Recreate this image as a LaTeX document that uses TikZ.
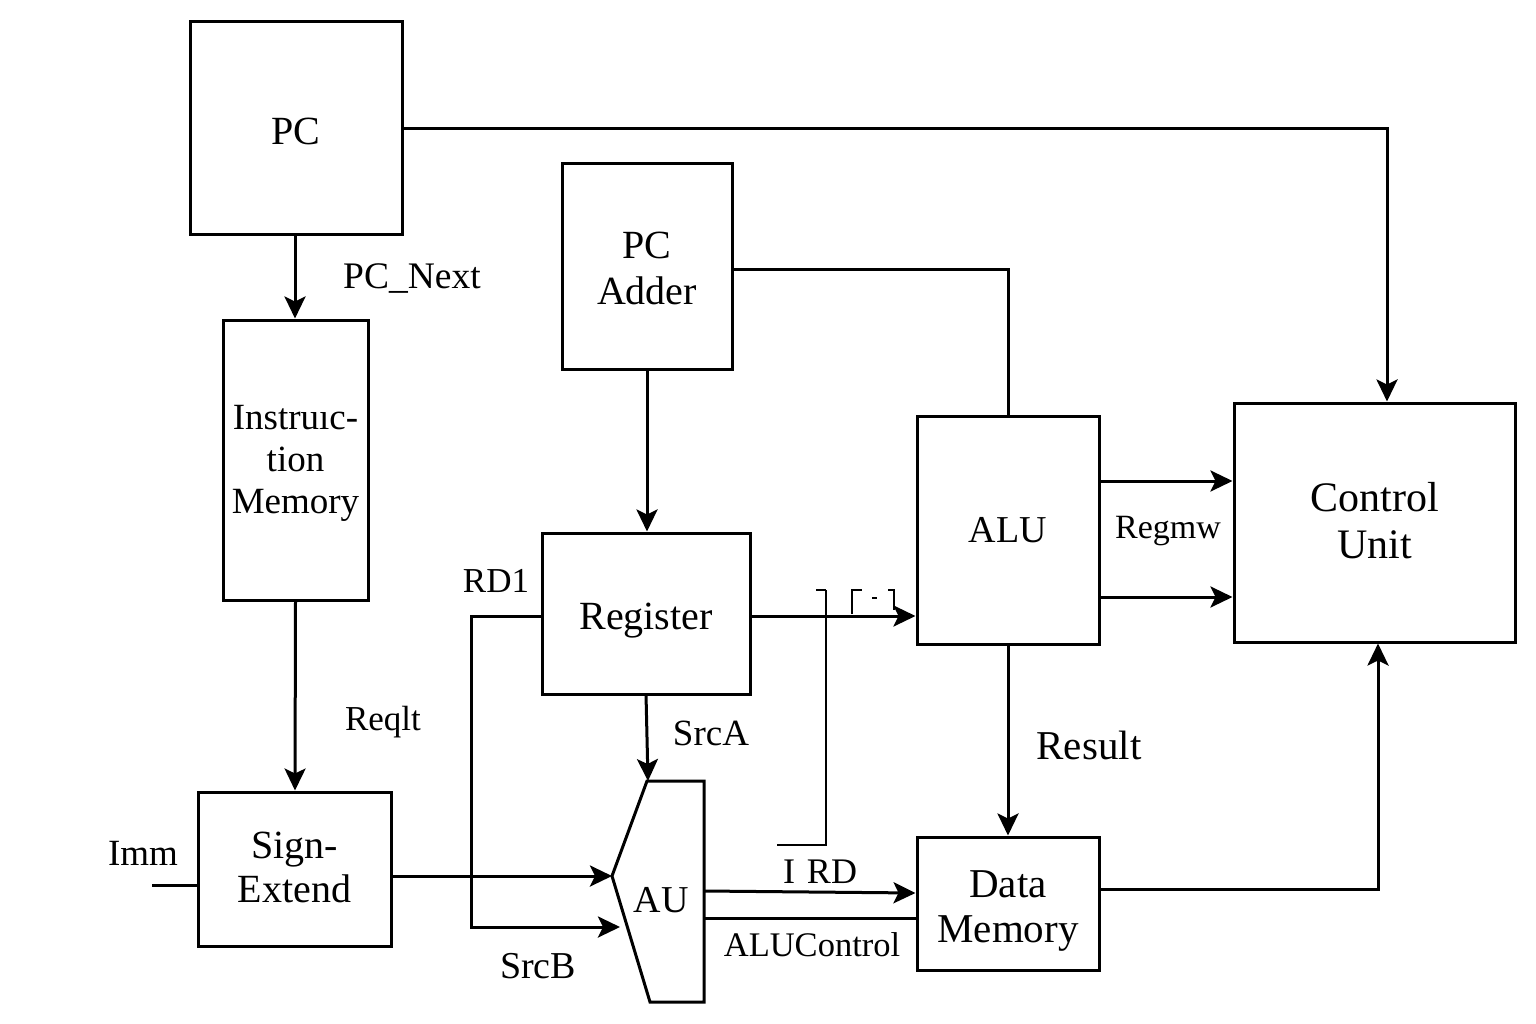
\documentclass[tikz,border=0pt]{standalone}
\usepackage{fontspec}
\setmainfont{Liberation Serif}
\usetikzlibrary{arrows.meta,calc}
\begin{document}
\begin{tikzpicture}[x=1pt,y=-1pt,
  blk/.style={draw,line width=3pt,inner sep=0pt},
  bt/.style={inner sep=0pt,align=center,font=\fontsize{40}{46}\selectfont},
  lbl/.style={inner sep=0pt,font=\fontsize{36}{40}\selectfont},
  wire/.style={line width=3pt},
  arr/.style={line width=3pt,-{Stealth[length=22pt,width=21pt,inset=5pt]}},
  thin/.style={line width=2pt}]
\useasboundingbox[fill=white] (0,0) rectangle (1536,1024);
% blocks
\node[blk,minimum width=212pt,minimum height=213pt,
  label={[bt,yshift=-3pt]center:PC}] (PC) at (296,128.5) {};
\node[blk,minimum width=145pt,minimum height=280pt,
  label={[bt,yshift=-3pt,font=\fontsize{37}{42}\selectfont]center:Instruıc-\\tion\\Memory}] (IM) at (295.5,460) {};
\node[blk,minimum width=193pt,minimum height=154pt,
  label={[bt,yshift=2pt,font=\fontsize{40}{44}\selectfont]center:Sign-\\Extend}] (SE) at (294.5,869) {};
\node[blk,minimum width=170pt,minimum height=205pt,
  label={[bt,yshift=-2pt]center:PC\\Adder}] (PCA) at (647,266.5) {};
\node[blk,minimum width=208pt,minimum height=161pt,
  label={[bt,yshift=-7pt]center:Register}] (REG) at (646,613.5) {};
\node[blk,minimum width=182pt,minimum height=228pt,
  label={[bt,font=\fontsize{38}{44}\selectfont]center:ALU}] (ALU) at (1008,530) {};
\node[blk,minimum width=281pt,minimum height=239pt,
  label={[bt,yshift=2pt,font=\fontsize{42}{47}\selectfont]center:Control\\Unit}] (CU) at (1374.5,522.5) {};
\node[blk,minimum width=182pt,minimum height=133pt,
  label={[bt,yshift=-7pt,font=\fontsize{41}{45}\selectfont]center:Data\\Memory}] (DM) at (1008,903.5) {};
% AU shape
\coordinate (AUtl) at (647,781);
\coordinate (AUtr) at (704,781);
\coordinate (AUbr) at (704,1002);
\coordinate (AUbl) at (650,1002);
\coordinate (AUin) at (612,876);
\draw[wire,line join=miter] (AUtl) -- (AUtr) -- (AUbr) -- (AUbl) -- (AUin) -- cycle;
\node[inner sep=0pt,font=\fontsize{38}{44}\selectfont] (AU) at (661,900) {AU};
\coordinate (AUb) at (620,927);
\coordinate (AUo1) at (704,891);
\coordinate (AUo2) at (704,918);
% connectors
\draw[arr] (PC.east) -| ([xshift=12.5pt]CU.north);
\draw[arr] ([xshift=-1pt]PC.south) -- ([xshift=-0.5pt]IM.north);
\draw[arr] (IM.south) -- ([xshift=0.5pt]SE.north);
\draw[wire] (PCA.east |- 0,270) -| (ALU.north);
\draw[arr] (PCA.south) -- ([xshift=1pt]REG.north);
\draw[arr] (REG.east |- 0,616) -- (ALU.west |- 0,616);
\draw[arr] (REG.south |- 0,694) -- ([xshift=1pt]AUtl);
\coordinate (rd1c) at (471,616);
\draw[arr] (REG.west |- rd1c) -- (rd1c) |- (AUb);
\draw[arr] (SE.east |- AUin) -- (AUin);
\coordinate (immin) at (152,885);
\draw[wire] (immin) -- (SE.west |- immin);
\draw[arr] (AUo1) -- (DM.west |- 0,893);
\draw[wire] (AUo2) -- (DM.west |- AUo2);
\draw[arr] (ALU.east |- 0,481) -- (CU.west |- 0,481);
\draw[arr] (ALU.east |- 0,597) -- (CU.west |- 0,597);
\draw[arr] (ALU.south) -- (DM.north);
\draw[arr] (DM.east |- 0,889) -| ([xshift=3.5pt]CU.south);
% odd marks near ALU input
\coordinate (m1) at (816,590);
\coordinate (m2) at (826,590);
\coordinate (m3) at (826,845);
\coordinate (m4) at (777,845);
\draw[thin] (m1) -- (m2);
\draw[line width=2.5pt] (m2) -- (m3) -- (m4);
\coordinate (m5) at (852,614);
\coordinate (m6) at (852,590);
\coordinate (m7) at (862,590);
\draw[thin] (m5) -- (m6) -- (m7);
\coordinate (m8) at (872,598);
\coordinate (m9) at (877,598);
\draw[thin] (m8) -- (m9);
\coordinate (m10) at (888,590);
\coordinate (m11) at (894,590);
\coordinate (m12) at (894,610);
\draw[thin] (m10) -- (m11) -- (m12);
% labels
\node[lbl,font=\fontsize{37.5}{40}\selectfont] (lpcn) at (412,279) {PC\_Next};
\node[lbl,font=\fontsize{35}{40}\selectfont] (lreq) at (383,722) {Reqlt};
\node[lbl,font=\fontsize{35}{40}\selectfont] (lrd1) at (496,581) {RD1};
\node[lbl,font=\fontsize{37}{40}\selectfont] (lsrca) at (711,733) {SrcA};
\node[lbl,font=\fontsize{38}{40}\selectfont] (lsrcb) at (538,966) {SrcB};
\node[lbl,font=\fontsize{37}{40}\selectfont] (limm) at (143,853) {Imm};
\node[lbl] (lird) at (820,872) {I\hspace{12pt}RD};
\node[lbl,font=\fontsize{34.5}{40}\selectfont] (laluc) at (812,945) {ALUControl};
\node[lbl,font=\fontsize{34}{40}\selectfont] (lregmw) at (1168,531) {Regmw};
\node[lbl,font=\fontsize{41}{44}\selectfont] (lres) at (1089,745) {Result};
\end{tikzpicture}
\end{document}
